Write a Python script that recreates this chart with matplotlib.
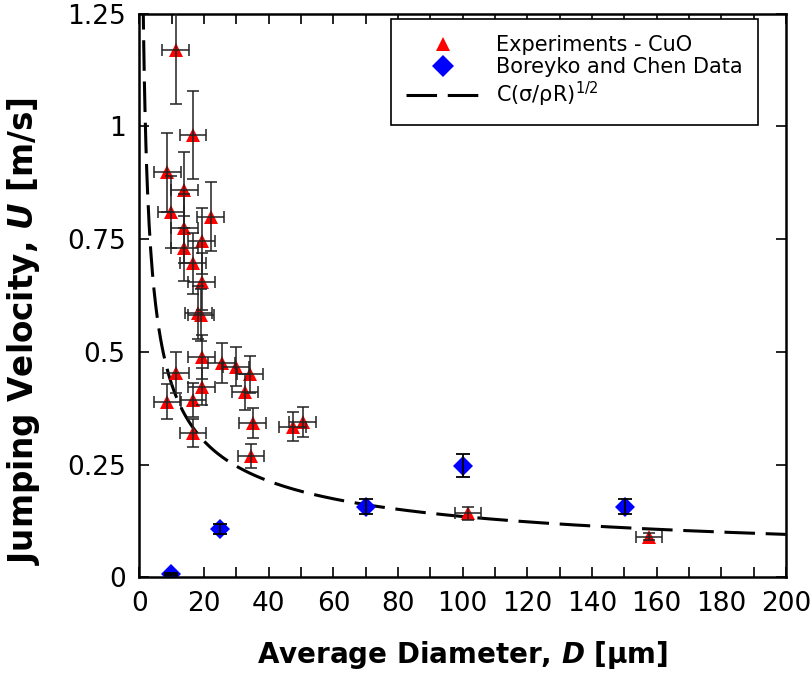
import numpy as np
import matplotlib
matplotlib.use("Agg")
import matplotlib.pyplot as plt
from matplotlib.lines import Line2D

# ---- data ----
cuo_D = [11.2, 16.6, 8.6, 13.9, 9.75, 22.0, 13.9, 19.2, 13.9, 16.5, 19.2, 18.2, 19.0,
         19.2, 11.3, 25.4, 29.9, 34.2, 19.2, 32.6, 8.6, 16.6, 35.0, 47.4, 50.5, 16.6,
         34.5, 101.7, 157.7]
cuo_U = [1.170, 0.981, 0.898, 0.859, 0.811, 0.800, 0.774, 0.746, 0.730, 0.696, 0.656,
         0.587, 0.582, 0.489, 0.454, 0.476, 0.467, 0.450, 0.423, 0.412, 0.390, 0.393,
         0.343, 0.334, 0.345, 0.321, 0.269, 0.142, 0.090]
cuo_Uerr = [0.120, 0.097, 0.087, 0.084, 0.080, 0.077, 0.076, 0.073, 0.072, 0.068, 0.064,
            0.058, 0.057, 0.048, 0.045, 0.044, 0.043, 0.042, 0.041, 0.040, 0.038, 0.038,
            0.033, 0.032, 0.033, 0.031, 0.026, 0.015, 0.008]
cuo_Derr = [4.1] * len(cuo_D)

bc_D = [9.75, 24.9, 70.1, 100.2, 150.1]
bc_U = [0.0075, 0.107, 0.157, 0.248, 0.157]
bc_Uerr = [0.002, 0.011, 0.017, 0.025, 0.016]

C_fit = 1.351  # U = C / sqrt(D)
x_ticks = list(range(0, 201, 20))
y_ticks = [0, 0.25, 0.5, 0.75, 1, 1.25]
y_ticklabels = ["0", "0.25", "0.5", "0.75", "1", "1.25"]

plt.rcParams['font.family'] = ['DejaVu Sans']

fig = plt.figure(figsize=(8.11, 6.77), dpi=100)
ax = fig.add_axes([0.172, 0.147, 0.797, 0.833])

D_curve = np.linspace(1.0, 200, 800)
ax.plot(D_curve, C_fit / np.sqrt(D_curve), color='black', lw=2.2,
        dashes=(10, 3.5), zorder=1)

ax.plot(cuo_D, cuo_U, linestyle='none', marker='^', color='#ff0000',
        markersize=9.5, markeredgewidth=0, zorder=2)
ax.errorbar(cuo_D, cuo_U, yerr=cuo_Uerr, xerr=cuo_Derr, fmt='none',
            ecolor='#222222', elinewidth=1.3, capsize=4, capthick=1.3,
            alpha=0.85, zorder=3)

ax.plot(bc_D, bc_U, linestyle='none', marker='D', color='#0000ff',
        markersize=10, markeredgewidth=0, zorder=2)
ax.errorbar(bc_D, bc_U, yerr=bc_Uerr, fmt='none', ecolor='black',
            elinewidth=1.3, capsize=5, capthick=1.3, zorder=3)

ax.set_xlim(0, 200)
ax.set_ylim(0, 1.25)
ax.set_xticks(x_ticks)
ax.set_xticks(range(0, 201, 10), minor=True)
ax.set_yticks(y_ticks)
ax.set_yticklabels(y_ticklabels)
ax.tick_params(which='both', direction='in', top=True, right=True,
               labelsize=19, length=7, width=1.2, pad=10)
ax.tick_params(which='minor', length=7)
for s in ax.spines.values():
    s.set_linewidth(1.8)

fig.text(0.5705, 0.032, r"Average Diameter, $\bfit{D}$ [μm]", ha='center',
         va='center', fontsize=20, fontweight='bold')
fig.text(0.029, 0.511, r"Jumping Velocity, $\bfit{U}$ [m/s]", ha='center',
         va='center', fontsize=23.5, fontweight='bold', rotation=90)

handles = [
    Line2D([], [], linestyle='none', marker='^', color='#ff0000', markersize=10,
           markeredgewidth=0),
    Line2D([], [], linestyle='none', marker='D', color='#0000ff', markersize=11,
           markeredgewidth=0),
    Line2D([], [], color='black', lw=2.2, dashes=(10, 3.5)),
]
labels = ["Experiments - CuO", "Boreyko and Chen Data", r"C(σ/ρR)$^{1/2}$"]
leg = ax.legend(handles, labels, loc='upper right', bbox_to_anchor=(0.957, 0.990),
                borderaxespad=0, fontsize=15, frameon=True, fancybox=False,
                edgecolor='black', framealpha=1, handlelength=3.5, borderpad=0.75,
                labelspacing=0.12, handletextpad=0.8)
leg.get_frame().set_linewidth(1.2)

fig.savefig("out.png", dpi=100)
